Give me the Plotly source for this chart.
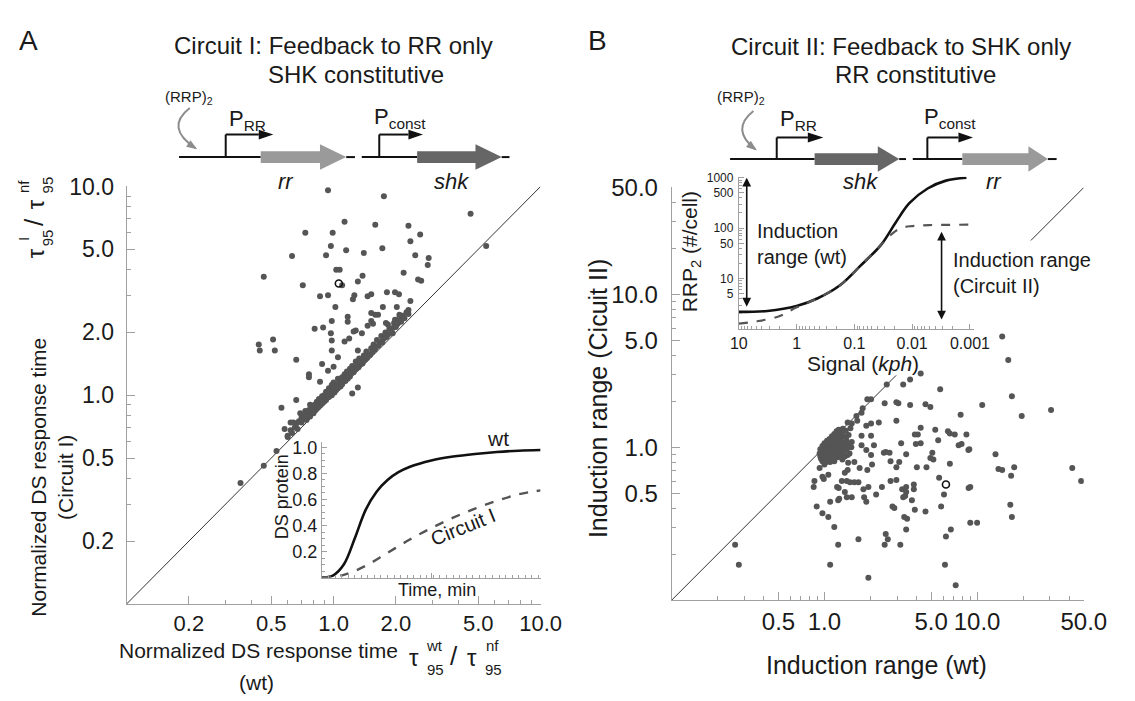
import math
import plotly.graph_objects as go

W, H = 1135, 701


def fx(p):
    return p / W


def fy(p):
    return 1 - p / H


# ---------------- data ----------------
# panel A: normalized DS response time, wt (x) vs Circuit I (y)
a_sparse = [
    (0.94, 9.6), (1.75, 8.97), (4.59, 7.4), (1.13, 6.78), (1.59, 6.56), (2.30, 6.49),
    (0.73, 6.01), (0.99, 6.01), (2.62, 5.89), (2.35, 5.46), (5.46, 5.18), (0.97, 5.18),
    (1.15, 4.95), (1.40, 4.80), (1.72, 5.06), (0.92, 4.69), (0.63, 4.64), (2.48, 4.69),
    (2.88, 4.54), (2.85, 4.21), (1.03, 3.99), (1.07, 3.99), (0.46, 3.70), (2.18, 3.86),
    (1.38, 3.74), (1.31, 3.51), (2.56, 3.58), (2.65, 3.54), (0.71, 3.36), (1.10, 3.36),
    (0.86, 2.98), (0.94, 3.01), (1.26, 3.01), (1.24, 2.88), (1.46, 2.98), (1.52, 3.05),
    (1.81, 3.11), (1.98, 3.11), (2.07, 3.05), (2.35, 2.83), (1.02, 2.65), (1.73, 2.65),
    (2.02, 2.65), (2.30, 2.56), (1.52, 2.48), (1.59, 2.43), (1.64, 2.43), (1.17, 2.38),
    (0.98, 2.27), (1.17, 2.25), (1.52, 2.27), (1.55, 2.20), (1.79, 2.22), (1.83, 2.18),
    (1.98, 2.30), (2.04, 2.25), (2.08, 2.43), (1.46, 2.15),
    (0.435, 1.75), (0.44, 1.64), (0.51, 1.85), (0.52, 1.64), (0.66, 1.48), (0.56, 0.87),
    (0.66, 0.95), (0.76, 1.26), (0.76, 1.22), (0.81, 2.08), (0.89, 2.11), (0.97, 1.98),
    (0.98, 1.83), (0.98, 1.64), (0.88, 1.41), (0.94, 1.31), (0.86, 1.16), (1.05, 1.52),
    (1.00, 1.37), (1.13, 1.81), (1.19, 1.87), (1.28, 2.04), (1.25, 2.02), (1.37, 1.98),
    (1.31, 1.64), (1.93, 1.98), (1.23, 1.02), (1.31, 1.09),
    (0.355, 0.38), (0.46, 0.46), (0.53, 0.54), (0.58, 0.69), (0.60, 0.63), (0.62, 0.74),
    (0.64, 0.74), (0.69, 0.82), (0.73, 0.84), (0.77, 0.90),
]
a_band = [
    (0.60, 0.64), (0.62, 0.68), (0.63, 0.66), (0.65, 0.70), (0.66, 0.73), (0.67, 0.69),
    (0.68, 0.75), (0.70, 0.74), (0.70, 0.78), (0.72, 0.77), (0.73, 0.81), (0.74, 0.76),
    (0.75, 0.80), (0.76, 0.85), (0.77, 0.79), (0.78, 0.83), (0.79, 0.88), (0.80, 0.82),
    (0.80, 0.86), (0.81, 0.90), (0.82, 0.85), (0.83, 0.93), (0.84, 0.87), (0.85, 0.90),
    (0.85, 0.96), (0.86, 0.89), (0.87, 0.93), (0.88, 0.99), (0.88, 0.91), (0.89, 0.95),
    (0.90, 0.93), (0.90, 1.00), (0.91, 0.97), (0.92, 1.04), (0.92, 0.95), (0.93, 0.99),
    (0.94, 1.02), (0.95, 0.98), (0.95, 1.08), (0.96, 1.01), (0.97, 1.05), (0.98, 1.12),
    (0.98, 1.00), (0.99, 1.04), (1.00, 1.07), (1.00, 1.15), (1.01, 1.03), (1.02, 1.09),
    (1.03, 1.06), (1.04, 1.13), (1.05, 1.20), (1.05, 1.08), (1.06, 1.11), (1.07, 1.16),
    (1.08, 1.10), (1.09, 1.14), (1.10, 1.22), (1.10, 1.13), (1.12, 1.18), (1.13, 1.26),
    (1.14, 1.17), (1.15, 1.21), (1.16, 1.30), (1.17, 1.20), (1.18, 1.25), (1.20, 1.23),
    (1.20, 1.34), (1.22, 1.28), (1.23, 1.38), (1.25, 1.29), (1.26, 1.33), (1.28, 1.45),
    (1.29, 1.34), (1.30, 1.39), (1.32, 1.36), (1.33, 1.50), (1.35, 1.41), (1.37, 1.46),
    (1.38, 1.42), (1.40, 1.55), (1.42, 1.48), (1.44, 1.62), (1.45, 1.51), (1.47, 1.57),
    (1.50, 1.56), (1.52, 1.68), (1.54, 1.61), (1.56, 1.75), (1.58, 1.65), (1.60, 1.70),
    (1.62, 1.84), (1.65, 1.73), (1.68, 1.80), (1.70, 1.92), (1.72, 1.79), (1.75, 1.87),
    (1.78, 2.00), (1.80, 1.90), (1.83, 1.95), (1.86, 2.08), (1.90, 2.00), (1.93, 2.10),
    (1.96, 2.22), (2.00, 2.12), (2.04, 2.20), (2.08, 2.35), (2.12, 2.25), (2.16, 2.40),
    (2.20, 2.34), (2.25, 2.50), (2.30, 2.45),
]
a_open = (1.06, 3.43)
diag_a = [0.1, 10]

# panel B: induction range, wt (x) vs Circuit II (y)
b_sparse = [
    (14.6, 5.30), (16.0, 3.72), (4.27, 3.03), (3.64, 2.77), (3.28, 2.57), (2.56, 2.57),
    (5.73, 2.39), (16.9, 2.15), (10.8, 1.89), (7.80, 1.63), (19.6, 1.60), (4.59, 1.91),
    (4.94, 1.83), (3.64, 1.89), (2.96, 1.97), (3.05, 1.94), (2.48, 1.94), (2.02, 2.06),
    (5.32, 1.30), (6.44, 1.27), (6.63, 1.23), (7.14, 1.21), (8.51, 1.21), (4.27, 1.34),
    (3.91, 1.21), (4.09, 1.21), (2.96, 1.49), (2.27, 1.45), (2.02, 1.43), (5.56, 1.11),
    (3.97, 1.05), (4.27, 1.06), (7.57, 1.03), (7.91, 1.05), (8.77, 0.96), (8.89, 0.97),
    (3.18, 1.06), (3.43, 0.90), (5.09, 0.92), (4.94, 0.85), (5.17, 0.83), (6.63, 0.78),
    (4.66, 0.74), (4.03, 0.74), (2.96, 0.74), (3.09, 0.80), (2.71, 0.81), (2.67, 0.92),
    (2.45, 0.92), (2.52, 0.93), (5.64, 0.63), (13.2, 0.90), (13.8, 0.72), (14.6, 0.71),
    (16.7, 0.65), (17.5, 0.74), (9.02, 0.55), (8.80, 0.54), (6.07, 0.49), (5.81, 0.41),
    (3.85, 0.57), (3.85, 0.53), (3.43, 0.55), (3.23, 0.53), (2.96, 0.61), (2.71, 0.60),
    (2.38, 0.55), (1.94, 0.55), (2.18, 0.49), (3.43, 0.51), (3.38, 0.48), (3.28, 0.47),
    (3.74, 0.45), (2.79, 0.41), (2.87, 0.40), (3.91, 0.39), (4.59, 0.38), (3.33, 0.35),
    (3.48, 0.34), (3.43, 0.29), (3.14, 0.23), (2.52, 0.27), (2.60, 0.25), (2.48, 0.23),
    (6.73, 0.29), (6.25, 0.26), (9.02, 0.32), (10.0, 0.32), (16.5, 0.42), (16.9, 0.35),
    (6.16, 0.17), (7.24, 0.125), (1.94, 0.14), (48.0, 0.60), (42.0, 0.73), (30.5, 1.75),
    (0.26, 0.23), (0.275, 0.17), (1.09, 0.17), (1.67, 0.25), (1.23, 0.23), (1.16, 0.30),
    (1.06, 0.35), (0.97, 0.37), (0.89, 0.41), (0.85, 0.55), (0.86, 0.60), (0.93, 0.73),
    (1.09, 0.44), (1.23, 0.45), (1.25, 0.46), (1.36, 0.51), (1.40, 0.47), (1.51, 0.47),
    (1.82, 0.47), (1.88, 0.44), (1.80, 0.53), (1.57, 0.59), (1.67, 0.59), (1.30, 0.60),
    (1.40, 0.60), (1.47, 0.59), (1.21, 0.55), (1.24, 0.54), (0.97, 0.64), (0.99, 0.62),
    (1.06, 0.66), (1.36, 0.68), (1.42, 0.71),
    (1.91, 2.06), (1.78, 1.80), (1.75, 1.68), (1.62, 1.60), (1.64, 1.49), (1.51, 1.43),
    (1.42, 1.45), (1.32, 1.32), (1.75, 1.03), (1.88, 0.96), (2.02, 0.89), (1.57, 0.80),
    (1.70, 0.73), (1.91, 0.71), (2.05, 0.77), (1.30, 0.93), (1.42, 0.89), (1.51, 1.08),
    (1.75, 1.19), (2.02, 1.19), (1.88, 1.38), (2.11, 1.03),
]
b_cluster = [
    (0.93, 0.91), (0.95, 0.94), (0.96, 0.97), (0.97, 0.90), (0.98, 0.99), (0.99, 0.93),
    (1.00, 0.86), (1.00, 1.01), (1.01, 0.96), (1.02, 0.90), (1.03, 1.04), (1.03, 0.98),
    (1.04, 0.83), (1.05, 0.93), (1.06, 1.06), (1.06, 1.00), (1.07, 0.88), (1.08, 1.02),
    (1.08, 0.95), (1.09, 0.80), (1.10, 1.09), (1.10, 0.91), (1.11, 1.00), (1.12, 0.85),
    (1.13, 1.12), (1.13, 0.96), (1.14, 1.04), (1.15, 0.89), (1.16, 1.15), (1.16, 0.81),
    (1.17, 0.98), (1.18, 1.07), (1.19, 0.92), (1.20, 1.18), (1.21, 1.01), (1.22, 0.86),
    (1.23, 1.11), (1.24, 0.95), (1.25, 1.21), (1.26, 1.04), (1.27, 0.90), (1.28, 1.14),
    (1.29, 0.99), (1.30, 1.25), (1.31, 0.83), (1.32, 1.07), (1.33, 0.94), (1.34, 1.18),
    (1.35, 1.02), (1.36, 0.87), (1.38, 1.28), (1.39, 1.12), (1.40, 0.97), (1.42, 1.05),
    (1.43, 0.79), (1.44, 1.20), (1.46, 0.91), (1.48, 1.33), (1.50, 1.00), (0.95, 0.84),
    (0.97, 0.81), (1.00, 0.77), (0.94, 0.87), (0.96, 0.90), (0.99, 0.95), (1.02, 0.97),
    (1.04, 1.01), (1.07, 1.04), (1.11, 1.07), (1.02, 0.92), (1.05, 0.87), (1.09, 0.93),
    (1.13, 0.98), (1.17, 0.89), (1.00, 0.82), (1.03, 0.80), (1.07, 0.83), (0.94, 0.97),
    (0.97, 1.02), (1.00, 1.06), (1.04, 1.10), (1.08, 1.13), (1.12, 1.18), (1.16, 1.22),
    (1.20, 1.27), (1.24, 1.30),
]
b_open = (6.25, 0.57)
diag_b_low = [0.1, 2.95]
diag_b_high = [22.5, 50]

# inset A: DS protein vs time
time_wt = [0, 0.5, 1.0, 1.5, 2.0, 2.5, 3.0, 3.5, 4.0, 5.0, 6.0, 7.0, 8.0, 9.0, 10.0]
ds_wt = [0, 0.015, 0.10, 0.30, 0.52, 0.66, 0.75, 0.81, 0.85, 0.90, 0.93, 0.95, 0.965, 0.975, 0.98]
time_c1 = [0, 1, 2, 3, 4, 5, 6, 7, 8, 9, 10]
ds_c1 = [0, 0.02, 0.09, 0.19, 0.29, 0.38, 0.46, 0.53, 0.59, 0.64, 0.67]

# inset B: RRP2 vs signal
sig_wt = [10, 3.2, 1.0, 0.43, 0.18, 0.079, 0.034, 0.0194, 0.0112, 0.0054, 0.0026, 0.00115]
rrp_wt = [2.19, 2.29, 2.86, 4.09, 7.3, 17.9, 47.8, 128, 313, 611, 875, 1000]
sig_c2 = [10, 5, 2, 1.0, 0.43, 0.18, 0.079, 0.034, 0.021, 0.015, 0.01, 0.005, 0.001]
rrp_c2 = [1.28, 1.42, 1.8, 2.7, 4.09, 7.3, 17.9, 47.8, 82, 102, 110, 115, 117]

# ticks
ticks_a = [0.2, 0.5, 1, 2, 5, 10]
ticklabels_a = ['0.2', '0.5', '1.0', '2.0', '5.0', '10.0']
ticks_b = [0.5, 1, 5, 10, 50]
ticklabels_b = ['0.5', '1.0', '5.0', '10.0', '50.0']
ticks_ds = [0.2, 0.4, 0.6, 0.8, 1.0]
ticklabels_ds = ['0.2', '0.4', '0.6', '0.8', '1.0']
ticks_sig = [10, 1, 0.1, 0.01, 0.001]
ticklabels_sig = ['10', '1', '0.1', '0.01', '0.001']
ticks_rrp = [5, 10, 50, 100, 500, 1000]
ticklabels_rrp = ['5', '10', '50', '100', '500', '1000']


def log_minor(lo, hi, skip):
    out = []
    for e in range(lo, hi):
        for m in range(2, 10):
            v = round(m * 10 ** e, 6)
            if v not in skip:
                out.append(v)
    return out


# ---------------- figure ----------------
GRAY = '#a0a0a0'
DOT = '#555555'
INK = '#1a1a1a'
FONT = 'Liberation Sans, Arial, sans-serif'

fig = go.Figure()


def pts(p):
    return [v[0] for v in p], [v[1] for v in p]


# panel A
fig.add_trace(go.Scatter(x=diag_a, y=diag_a, mode='lines', line=dict(color='#333', width=1),
                         xaxis='x', yaxis='y', hoverinfo='skip'))
xa, ya = pts(a_sparse + a_band)
fig.add_trace(go.Scatter(x=xa, y=ya, mode='markers', marker=dict(color=DOT, size=6),
                         xaxis='x', yaxis='y'))
fig.add_trace(go.Scatter(x=[a_open[0]], y=[a_open[1]], mode='markers',
                         marker=dict(symbol='circle-open', color='#111', size=7, line=dict(width=1.6)),
                         xaxis='x', yaxis='y'))

# panel B
for seg in (diag_b_low, diag_b_high):
    fig.add_trace(go.Scatter(x=seg, y=seg, mode='lines', line=dict(color='#333', width=1),
                             xaxis='x2', yaxis='y2', hoverinfo='skip'))
xb, yb = pts(b_sparse + b_cluster)
fig.add_trace(go.Scatter(x=xb, y=yb, mode='markers', marker=dict(color=DOT, size=6),
                         xaxis='x2', yaxis='y2'))
fig.add_trace(go.Scatter(x=[b_open[0]], y=[b_open[1]], mode='markers',
                         marker=dict(symbol='circle-open', color='#111', size=7, line=dict(width=1.6)),
                         xaxis='x2', yaxis='y2'))

# inset A
fig.add_trace(go.Scatter(x=time_wt, y=ds_wt, mode='lines', line=dict(color='#111', width=2.6, shape='spline'),
                         xaxis='x3', yaxis='y3'))
fig.add_trace(go.Scatter(x=time_c1, y=ds_c1, mode='lines',
                         line=dict(color='#555', width=2.4, dash='dash', shape='spline'),
                         xaxis='x3', yaxis='y3'))

# inset B
fig.add_trace(go.Scatter(x=sig_wt, y=rrp_wt, mode='lines', line=dict(color='#111', width=2.6, shape='spline'),
                         xaxis='x4', yaxis='y4'))
fig.add_trace(go.Scatter(x=sig_c2, y=rrp_c2, mode='lines',
                         line=dict(color='#555', width=2.2, dash='dash', shape='spline'),
                         xaxis='x4', yaxis='y4'))


def axis(domain, rng, anchor, typ='log', tickvals=None, ticktext=None, minor=None, size=22,
         ticklen=8, showlabels=True, standoff=0):
    d = dict(type=typ, range=rng, domain=domain, anchor=anchor, showline=True, linecolor=GRAY,
             linewidth=1, ticks='inside', ticklen=ticklen, tickcolor=GRAY, tickwidth=1,
             showgrid=False, zeroline=False, showticklabels=showlabels, ticklabelstandoff=standoff,
             tickfont=dict(size=size, color=INK, family=FONT))
    if tickvals is not None:
        d.update(tickmode='array', tickvals=tickvals, ticktext=ticktext)
    if minor is not None:
        m = dict(ticks='inside', ticklen=4, tickcolor=GRAY, showgrid=False)
        m.update(minor)
        d['minor'] = m
    return d


minor_a = log_minor(-1, 1, ticks_a)
minor_b = log_minor(-1, 2, ticks_b)
minor_rrp = log_minor(0, 3, ticks_rrp)
minor_sig = log_minor(-3, 1, ticks_sig)

layout_axes = dict(
    xaxis=axis([fx(121), fx(547)], [-1, 1], 'y', tickvals=ticks_a, ticktext=ticklabels_a,
               minor=dict(tickmode='array', tickvals=minor_a), size=22),
    yaxis=axis([fy(602), fy(176)], [-1, 1], 'x', tickvals=ticks_a, ticktext=ticklabels_a,
               minor=dict(tickmode='array', tickvals=minor_a), size=23, standoff=7),
    xaxis2=axis([fx(682), fx(1106)], [-1, math.log10(50)], 'y2', tickvals=ticks_b, ticktext=ticklabels_b,
                minor=dict(tickmode='array', tickvals=minor_b), size=24),
    yaxis2=axis([fy(598), fy(177)], [-1, math.log10(50)], 'x2', tickvals=ticks_b, ticktext=ticklabels_b,
                minor=dict(tickmode='array', tickvals=minor_b), size=24, standoff=8),
    xaxis3=axis([fx(322), fx(547)], [0, 10], 'y3', typ='linear', showlabels=False, ticklen=5,
                minor=dict(dtick=0.3, tick0=0, ticklen=3)),
    yaxis3=axis([fy(575), fy(437)], [0, 1.04], 'x3', typ='linear', tickvals=ticks_ds,
                ticktext=ticklabels_ds, size=18, ticklen=5, minor=dict(dtick=0.05, ticklen=3)),
    xaxis4=axis([fx(751), fx(993)], [1, -3.07], 'y4', tickvals=ticks_sig, ticktext=ticklabels_sig,
                minor=dict(tickmode='array', tickvals=minor_sig, ticklen=3), size=16, ticklen=5),
    yaxis4=axis([fy(321.5), fy(166)], [0, 3.02], 'x4', tickvals=ticks_rrp, ticktext=ticklabels_rrp,
                minor=dict(tickmode='array', tickvals=minor_rrp, ticklen=3), size=12, ticklen=5,
                standoff=2),
)

# ---------------- annotations ----------------
ann = []


def text(s, x, y, size, angle=0, xanchor='center', align='center', color=INK):
    ann.append(dict(text=s, x=fx(x), y=fy(y), xref='paper', yref='paper', showarrow=False,
                    font=dict(size=size, color=color, family=FONT), textangle=angle,
                    xanchor=xanchor, yanchor='middle', align=align))


# panel letters and titles
text('A', 20, 27, 28)
text('B', 606, 27, 28)
text('Circuit I: Feedback to RR only', 334, 32, 24)
text('SHK constitutive', 357, 62, 24)
text('Circuit II: Feedback to SHK only', 918, 33, 24)
text('RR constitutive', 933, 62, 24)

# panel A axis titles: "Normalized DS response time  tau/tau" with second line
text('Normalized DS response time', 257, 649, 21)
text('(wt)', 255, 682, 21)
text('τ', 417, 657, 24)
text('wt', 438, 644, 15)
text('95', 439, 669, 15)
text('/', 458, 655, 26)
text('τ', 476, 657, 24)
text('nf', 498, 644, 15)
text('95', 499, 669, 15)

text('Normalized DS response time', 30, 473, 21, angle=-90)
text('(Circuit I)', 58, 473, 21, angle=-90)
text('τ', 27, 244, 24, angle=-90)
text('I', 15, 230, 15, angle=-90)
text('95', 40, 228, 15, angle=-90)
text('/', 25, 212, 26, angle=-90)
text('τ', 27, 194, 24, angle=-90)
text('nf', 15, 176, 15, angle=-90)
text('95', 40, 174, 15, angle=-90)

# panel B axis titles
text('Induction range (Cicuit II)', 606, 392, 25, angle=-90)
text('Induction range (wt)', 893, 664, 25)

# inset A labels
text('DS protein', 281, 493, 18, angle=-90)
text('Time, min', 440, 588, 18)
text('wt', 503, 433, 21)
text('Circuit I', 467, 523, 20, angle=-22)

# inset B labels
text('RRP<sub>2</sub> (#/cell)', 702, 243, 21, angle=-90)
text('Signal (<i>kph</i>)', 879, 357, 21)
text('Induction<br>range (wt)', 768, 235, 20, xanchor='left', align='left')
text('Induction range<br>(Circuit II)', 969, 264, 20, xanchor='left', align='left')

# gene diagrams text
text('(RRP)<sub>2</sub>', 185, 85, 15)
text('P<sub>RR</sub>', 245, 108, 22)
text('P<sub>const</sub>', 402, 106, 22)
text('<i>rr</i>', 285, 171, 22)
text('<i>shk</i>', 455, 171, 22)
text('(RRP)<sub>2</sub>', 753, 85, 15)
text('P<sub>RR</sub>', 812, 108, 22)
text('P<sub>const</sub>', 968, 106, 22)
text('<i>shk</i>', 876, 171, 22)
text('<i>rr</i>', 1014, 171, 22)

# induction range arrows in inset B
for xs, ytop, ybot in ((7.3, 1000, 2.6), (0.0031, 85, 1.45)):
    ann.append(dict(text='', xref='x4', yref='y4', axref='x4', ayref='y4',
                    x=math.log10(xs), y=math.log10(ytop), ax=math.log10(xs), ay=math.log10(ybot),
                    showarrow=True, arrowhead=2, startarrowhead=2, arrowside='end+start',
                    arrowsize=1.1, startarrowsize=1.1, arrowwidth=1.6, arrowcolor='#111',
                    standoff=0, startstandoff=0))

# ---------------- gene diagram shapes ----------------
shapes = []


def line(x0, y0, x1, y1, color='#111', w=2):
    shapes.append(dict(type='line', xref='paper', yref='paper', x0=fx(x0), y0=fy(y0),
                       x1=fx(x1), y1=fy(y1), line=dict(color=color, width=w)))


def poly(p, color):
    path = 'M ' + ' L '.join(f'{fx(x):.5f},{fy(y):.5f}' for x, y in p) + ' Z'
    shapes.append(dict(type='path', xref='paper', yref='paper', path=path,
                       fillcolor=color, line=dict(width=0)))


def gene(x0, xh, x1, yc, color):
    poly([(x0, yc - 6), (xh, yc - 6), (xh, yc - 13), (x1, yc), (xh, yc + 13),
          (xh, yc + 6), (x0, yc + 6)], color)


def promoter(x, ybase, ytop, xh, xtip):
    line(x, ybase, x, ytop)
    line(x, ytop, xh, ytop)
    poly([(xh, ytop - 5), (xtip, ytop), (xh, ytop + 5)], '#111')


def curved(x0, y0, cx, cy, x1, y1):
    path = f'M {fx(x0):.5f},{fy(y0):.5f} Q {fx(cx):.5f},{fy(cy):.5f} {fx(x1):.5f},{fy(y1):.5f}'
    shapes.append(dict(type='path', xref='paper', yref='paper', path=path,
                       line=dict(color='#8c8c8c', width=2)))
    dx, dy = x1 - cx, y1 - cy
    n = math.hypot(dx, dy)
    ux, uy = dx / n, dy / n
    bx, by = x1 - 9 * ux, y1 - 9 * uy
    poly([(x1 + 2 * ux, y1 + 2 * uy), (bx - 4 * uy, by + 4 * ux), (bx + 4 * uy, by - 4 * ux)], '#8c8c8c')


# circuit I diagram
curved(186, 96, 160, 116, 192, 137)
line(175, 146, 259, 146)
promoter(223, 146, 123, 257, 272)
gene(259, 320, 347, 146, '#9a9a9a')
line(347, 146, 356, 146)
line(363, 146, 420, 146)
promoter(381, 146, 123, 411, 426)
gene(420, 480, 507, 146, '#666666')
line(507, 146, 515, 146)

# circuit II diagram
curved(766, 99, 742, 118, 768, 138)
line(742, 148, 829, 148)
promoter(790, 148, 126, 822, 838)
gene(829, 894, 916, 148, '#666666')
line(916, 148, 923, 148)
line(930, 148, 981, 148)
promoter(945, 148, 126, 977, 992)
gene(981, 1049, 1069, 148, '#9a9a9a')
line(1069, 148, 1078, 148)

fig.update_layout(
    width=W, height=H, margin=dict(l=0, r=0, t=0, b=0),
    paper_bgcolor='white', plot_bgcolor='rgba(0,0,0,0)',
    showlegend=False, font=dict(family=FONT, color=INK),
    annotations=ann, shapes=shapes, **layout_axes,
)

# the page body has a default 8px margin; drop it so the figure fills the window
fig.write_html('out.html', config={'displayModeBar': False},
               post_script="document.body.style.margin='0px';")
